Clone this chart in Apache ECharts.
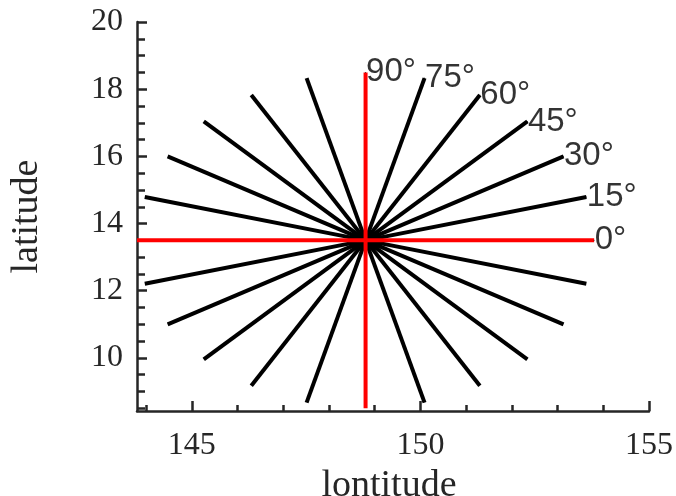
<!DOCTYPE html>
<html>
<head>
<meta charset="utf-8">
<script src="https://cdn.jsdelivr.net/npm/echarts@6/dist/echarts.min.js"></script>
<style>
html,body{margin:0;padding:0;background:#fff;}
#c{width:676px;height:496px;}
</style>
</head>
<body>
<div id="c"></div>
<script>
// Ray centre (lon, lat)
const centerLon = 148.8;
const centerLat = 13.5;
// Ray angles (degrees) and the end points
const rayAngles = [0, 15, 30, 45, 60, 75, 90, 105, 120, 135, 150, 165,
                   180, 195, 210, 225, 240, 255, 270, 285, 300, 315, 330, 345];
const rayEndLon = [153.8, 153.63, 153.13, 152.34, 151.3, 150.09, 148.8, 147.51, 146.3, 145.26, 144.47, 143.97,
                   143.8, 143.97, 144.47, 145.26, 146.3, 147.51, 148.8, 150.09, 151.3, 152.34, 153.13, 153.63];
const rayEndLat = [13.5, 14.79, 16.0, 17.04, 17.83, 18.33, 18.5, 18.33, 17.83, 17.04, 16.0, 14.79,
                   13.5, 12.21, 11.0, 9.96, 9.17, 8.67, 8.5, 8.67, 9.17, 9.96, 11.0, 12.21];
// Red rays (the axes of the star)
const redAngles = [0, 90, 180, 270];
// Angles that carry a text label
const labelAngles = [0, 15, 30, 45, 60, 75, 90];

// Axis ticks
const xMajorTicks = [145, 150, 155];
const xMinorTicks = [144, 145, 146, 147, 148, 149, 150, 151, 152, 153, 154, 155];
const yMajorTicks = [10, 12, 14, 16, 18, 20];
const yMinorTicks = [8.5, 9, 9.5, 10, 10.5, 11, 11.5, 12, 12.5, 13, 13.5, 14, 14.5, 15, 15.5, 16, 16.5, 17, 17.5, 18, 18.5, 19, 19.5, 20];

const xMin = 143.8, xMax = 155, yMin = 8.42, yMax = 20;
const axisColor = '#262626';
const serif = '"Liberation Serif", "Times New Roman", serif';
const sans = '"Liberation Sans", Arial, sans-serif';

const series = [];
const blackRays = [], redRays = [];
rayAngles.forEach((a, i) => {
  const seg = [[centerLon, centerLat], [rayEndLon[i], rayEndLat[i]]];
  (redAngles.indexOf(a) >= 0 ? redRays : blackRays).push(seg);
});
blackRays.forEach(seg => series.push({
  type: 'line', xAxisIndex: 0, yAxisIndex: 0, data: seg, symbol: 'none', silent: true,
  lineStyle: {color: '#000', width: 4, cap: 'butt'}, z: 2, animation: false
}));
redRays.forEach(seg => series.push({
  type: 'line', xAxisIndex: 0, yAxisIndex: 0, data: seg, symbol: 'none', silent: true,
  lineStyle: {color: '#ff0000', width: 4, cap: 'butt'}, z: 3, animation: false
}));
series.push({
  type: 'scatter', xAxisIndex: 0, yAxisIndex: 0, symbolSize: 1, z: 4, animation: false,
  itemStyle: {color: '#000'},
  data: labelAngles.map(a => {
    const i = rayAngles.indexOf(a);
    return {value: [rayEndLon[i], rayEndLat[i]], name: a + '°'};
  }),
  label: {
    show: true, position: 'right', distance: 0, formatter: p => p.name,
    fontFamily: sans, fontSize: 33, color: '#000'
  }
});

const chart = echarts.init(document.getElementById('c'), null, {renderer: 'canvas'});
chart.setOption({
  backgroundColor: '#fff',
  animation: false,
  grid: {left: 137, right: 27, top: 22, bottom: 85, containLabel: false, outerBoundsMode: 'none'},
  xAxis: [{
    type: 'value', min: xMin, max: xMax, position: 'bottom',
    name: 'lontitude', nameLocation: 'middle', nameGap: 42,
    nameTextStyle: {fontFamily: serif, fontSize: 38, color: axisColor, padding: [0, 8, 0, 0]},
    axisLine: {show: true, lineStyle: {color: axisColor, width: 2.5}},
    axisTick: {show: true, inside: true, length: 10, customValues: xMajorTicks, lineStyle: {color: axisColor, width: 2.5}},
    axisLabel: {show: true, customValues: xMajorTicks, margin: 19, fontFamily: serif, fontSize: 32, color: axisColor},
    splitLine: {show: false}
  }, {
    type: 'value', min: xMin, max: xMax, position: 'top', offset: -389,
    axisLine: {show: false},
    axisTick: {show: true, inside: false, length: 6, customValues: xMinorTicks, lineStyle: {color: axisColor, width: 2.5}},
    axisLabel: {show: false},
    splitLine: {show: false}
  }],
  yAxis: [{
    type: 'value', min: yMin, max: yMax, position: 'left',
    name: 'latitude', nameLocation: 'middle', nameGap: 91, nameRotate: 90,
    nameTextStyle: {fontFamily: serif, fontSize: 38, color: axisColor},
    axisLine: {show: true, lineStyle: {color: axisColor, width: 2.5}},
    axisTick: {show: true, inside: true, length: 10, customValues: yMajorTicks, lineStyle: {color: axisColor, width: 2.5}},
    axisLabel: {show: true, customValues: yMajorTicks, margin: 14, fontFamily: serif, fontSize: 32, color: axisColor, padding: [4, 0, 0, 0]},
    splitLine: {show: false}
  }, {
    type: 'value', min: yMin, max: yMax, position: 'right', offset: -512,
    axisLine: {show: false},
    axisTick: {show: true, inside: false, length: 8, customValues: yMinorTicks, lineStyle: {color: axisColor, width: 2.5}},
    axisLabel: {show: false},
    splitLine: {show: false}
  }],
  series: series
});
</script>
</body>
</html>
